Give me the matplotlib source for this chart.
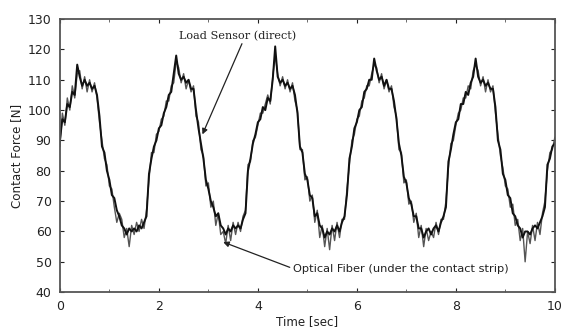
import numpy as np
import matplotlib
matplotlib.use("Agg")
import matplotlib.pyplot as plt
from matplotlib.ticker import MultipleLocator

# time axis, 0.05 s step
time = np.arange(201) * 0.05

load_sensor = [
    90, 97, 96, 102, 101, 106, 105, 115, 111, 108, 110, 108, 109, 107, 108, 105, 98, 88, 86, 80,
    77, 72, 71, 67, 65, 62, 61, 59, 61, 60, 61, 60, 62, 61, 63, 65, 79, 84, 88, 90,
    94, 95, 99, 101, 105, 106, 112, 118, 112, 110, 111, 109, 110, 107, 107, 100, 94, 89, 84, 77,
    74, 70, 68, 65, 66, 62, 61, 59, 61, 60, 62, 61, 62, 61, 64, 66, 80, 84, 89, 92,
    96, 97, 101, 100, 104, 103, 110, 121, 111, 109, 110, 108, 109, 107, 108, 105, 99, 88, 86, 79,
    77, 72, 71, 65, 66, 62, 61, 58, 60, 59, 61, 60, 62, 60, 63, 65, 72, 84, 88, 94,
    96, 100, 101, 106, 107, 110, 110, 117, 113, 110, 111, 108, 110, 107, 107, 103, 97, 89, 85, 78,
    76, 71, 69, 65, 65, 61, 61, 58, 60, 61, 59, 61, 62, 60, 63, 65, 68, 83, 87, 92,
    96, 97, 102, 102, 106, 105, 109, 111, 117, 111, 109, 110, 108, 109, 107, 107, 101, 90, 87, 79,
    77, 72, 71, 66, 65, 62, 61, 58, 60, 60, 59, 61, 62, 61, 63, 65, 68, 82, 84, 88, 89,
]

optical_fiber = [
    88, 99, 95, 104, 100, 108, 104, 112, 113, 107, 111, 106, 110, 106, 109, 104, 96, 90, 84, 82,
    75, 74, 68, 63, 66, 64, 58, 61, 55, 62, 59, 63, 60, 64, 61, 67, 77, 86, 86, 92,
    93, 97, 98, 103, 103, 108, 109, 116, 114, 109, 112, 107, 110, 106, 108, 98, 96, 87, 85, 75,
    76, 68, 70, 62, 66, 59, 60, 56, 62, 57, 63, 59, 63, 60, 65, 67, 82, 83, 90, 91,
    95, 99, 99, 102, 105, 102, 111, 118, 112, 108, 111, 107, 110, 106, 109, 103, 100, 87, 87, 77,
    78, 70, 72, 63, 67, 58, 62, 55, 61, 54, 62, 57, 63, 58, 64, 64, 74, 82, 90, 92,
    97, 98, 103, 104, 108, 108, 112, 115, 114, 109, 112, 107, 110, 106, 108, 101, 98, 87, 86, 76,
    77, 69, 70, 63, 66, 58, 62, 55, 61, 57, 60, 58, 63, 59, 64, 64, 70, 81, 89, 90,
    95, 99, 100, 104, 104, 108, 107, 113, 115, 113, 108, 111, 106, 110, 106, 108, 99, 92, 85, 81,
    75, 74, 68, 69, 62, 64, 57, 61, 50, 60, 56, 62, 57, 63, 59, 66, 70, 80, 86, 87, 91,
]

fig = plt.figure(figsize=(5.65, 3.29), dpi=100)
ax = fig.add_axes([0.106, 0.112, 0.876, 0.830])

ax.plot(time, optical_fiber, color="#555555", lw=1.0)
ax.plot(time, load_sensor, color="#111111", lw=1.4)

ax.set_xlim(0, 10)
ax.set_ylim(40, 130)
ax.xaxis.set_major_locator(MultipleLocator(2))
ax.xaxis.set_minor_locator(MultipleLocator(1))
ax.yaxis.set_major_locator(MultipleLocator(10))
ax.tick_params(which="both", direction="in", top=True, right=True, color="#555555")
ax.tick_params(which="major", length=3, labelsize=9, colors="#222222")
ax.tick_params(axis="x", which="major", pad=6)
ax.tick_params(axis="y", which="major", pad=6)
ax.tick_params(which="minor", length=2)
for lab in ax.get_xticklabels() + ax.get_yticklabels():
    lab.set_family("DejaVu Sans")
for s in ax.spines.values():
    s.set_color("#555555")
    s.set_linewidth(1.3)

ax.set_xlabel("Time [sec]", family="DejaVu Sans", fontsize=8.6, labelpad=1, color="#222222")
ax.set_ylabel("Contact Force [N]", family="DejaVu Sans", fontsize=8.6, labelpad=3, color="#222222")

ax.annotate("Load Sensor (direct)", xy=(2.88, 92), xytext=(2.4, 124.5),
            family="DejaVu Serif", fontsize=8.1, va="center", color="#222222",
            arrowprops=dict(arrowstyle="-|>", color="#222222", lw=0.9,
                            shrinkA=0, shrinkB=0, relpos=(0.55, 0.0)))
ax.annotate("Optical Fiber (under the contact strip)", xy=(3.3, 56.5), xytext=(4.7, 47.5),
            family="DejaVu Sans", fontsize=8.2, va="center", color="#222222",
            arrowprops=dict(arrowstyle="-|>", color="#222222", lw=0.9,
                            shrinkA=0, shrinkB=0, relpos=(0.0, 0.6)))

fig.savefig("out.png", dpi=100)
